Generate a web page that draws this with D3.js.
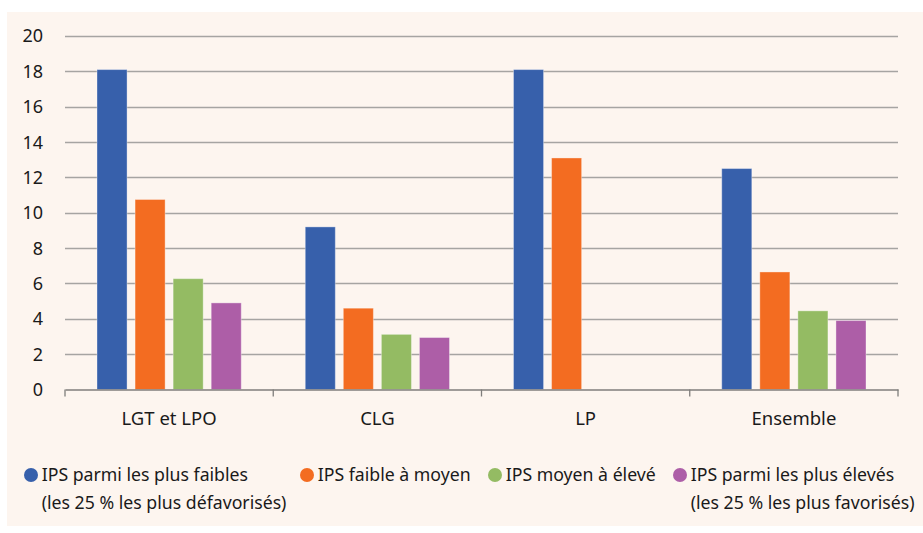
<!DOCTYPE html>
<html>
<head>
<meta charset="utf-8">
<script src="https://cdn.jsdelivr.net/npm/d3@7"></script>
<style>
  html, body { margin: 0; padding: 0; background: #ffffff; }
  svg { display: block; }
</style>
</head>
<body>
<svg id="chart" width="923" height="533"></svg>
<script>
const categories = ["LGT et LPO", "CLG", "LP", "Ensemble"];
const seriesNames = [
  ["IPS parmi les plus faibles", "(les 25 % les plus défavorisés)"],
  ["IPS faible à moyen"],
  ["IPS moyen à élevé"],
  ["IPS parmi les plus élevés", "(les 25 % les plus favorisés)"]
];
const seriesColors = ["#3760ab", "#f36c21", "#94bb63", "#ad5ea7"];
const valuesLowest = [18.1, 9.2, 18.1, 12.5];
const valuesLowMid = [10.75, 4.6, 13.1, 6.65];
const valuesMidHigh = [6.27, 3.12, null, 4.45];
const valuesHighest = [4.9, 2.94, null, 3.9];
const seriesValues = [valuesLowest, valuesLowMid, valuesMidHigh, valuesHighest];
const yTicks = [0, 2, 4, 6, 8, 10, 12, 14, 16, 18, 20];

(function () {
const svg = d3.select("#chart");
const W = 923, H = 533;

// background panel
svg.append("rect").attr("x", 7).attr("y", 12).attr("width", W - 7).attr("height", 514).attr("fill", "#fdf5ef");

const pLeft = 65, pRight = 898, pTop = 36, pBottom = 389.5;

const y = d3.scaleLinear().domain([0, 20]).range([pBottom, pTop]);
const x0 = d3.scaleBand().domain(categories).range([pLeft, pRight]).padding(0);
const groupPad = 32;
const x1 = d3.scaleBand().domain(d3.range(4)).range([groupPad, x0.bandwidth() - groupPad]).paddingInner(0.2105).paddingOuter(0);

// gridlines
svg.append("g").selectAll("line").data(yTicks.filter(d => d > 0)).join("line")
  .attr("x1", pLeft).attr("x2", pRight)
  .attr("y1", d => Math.round(y(d)) + 0.5).attr("y2", d => Math.round(y(d)) + 0.5)
  .attr("stroke", "#a6a4a2").attr("stroke-width", 1.3);

// y labels
svg.append("g").selectAll("text").data(yTicks).join("text")
  .attr("x", 43).attr("y", d => y(d)).attr("dy", "0.36em")
  .attr("text-anchor", "end")
  .attr("font-family", "Noto Sans, sans-serif").attr("font-size", 18).attr("fill", "#1a1a1a")
  .text(d => d);

// bars
const groups = svg.append("g").selectAll("g").data(categories).join("g")
  .attr("transform", c => `translate(${x0(c)},0)`);
groups.selectAll("rect")
  .data((c, ci) => seriesValues.map((vals, si) => ({ si, v: vals[ci] })).filter(d => d.v != null))
  .join("rect")
  .attr("x", d => x1(d.si)).attr("width", x1.bandwidth())
  .attr("y", d => y(d.v)).attr("height", d => pBottom - y(d.v))
  .attr("fill", d => seriesColors[d.si])
  .attr("stroke", "rgba(255,255,255,0.35)").attr("stroke-width", 1);

// x axis
const xAxis = d3.axisBottom(x0).tickSize(0).tickFormat("");
const ax = svg.append("g").attr("transform", `translate(0,${pBottom})`).call(xAxis);
ax.select(".domain").attr("stroke", "#7f7d7b").attr("stroke-width", 1.3);
const bounds = categories.map(c => x0(c)).concat([pRight]);
svg.append("g").selectAll("line").data(bounds).join("line")
  .attr("x1", d => d).attr("x2", d => d)
  .attr("y1", pBottom).attr("y2", pBottom + 7)
  .attr("stroke", "#7f7d7b").attr("stroke-width", 1.3);
svg.append("g").selectAll("text").data(categories).join("text")
  .attr("x", c => x0(c) + x0.bandwidth() / 2).attr("y", 418).attr("dy", "0.36em")
  .attr("text-anchor", "middle")
  .attr("font-family", "Noto Sans, sans-serif").attr("font-size", 18.5).attr("fill", "#1a1a1a")
  .text(c => c);

// legend
const legendX = [31, 307, 495, 680];
const legend = svg.append("g").selectAll("g").data(seriesNames).join("g")
  .attr("transform", (d, i) => `translate(${legendX[i]},475)`);
legend.append("circle").attr("r", 7).attr("fill", (d, i) => seriesColors[i]);
legend.each(function(lines) {
  d3.select(this).selectAll("text").data(lines).join("text")
    .attr("x", 10.7).attr("y", (d, j) => j * 28).attr("dy", "0.36em")
    .attr("font-family", "Noto Sans, sans-serif").attr("font-size", 17.7).attr("fill", "#1a1a1a")
    .text(d => d);
});
})();
</script>
</body>
</html>
